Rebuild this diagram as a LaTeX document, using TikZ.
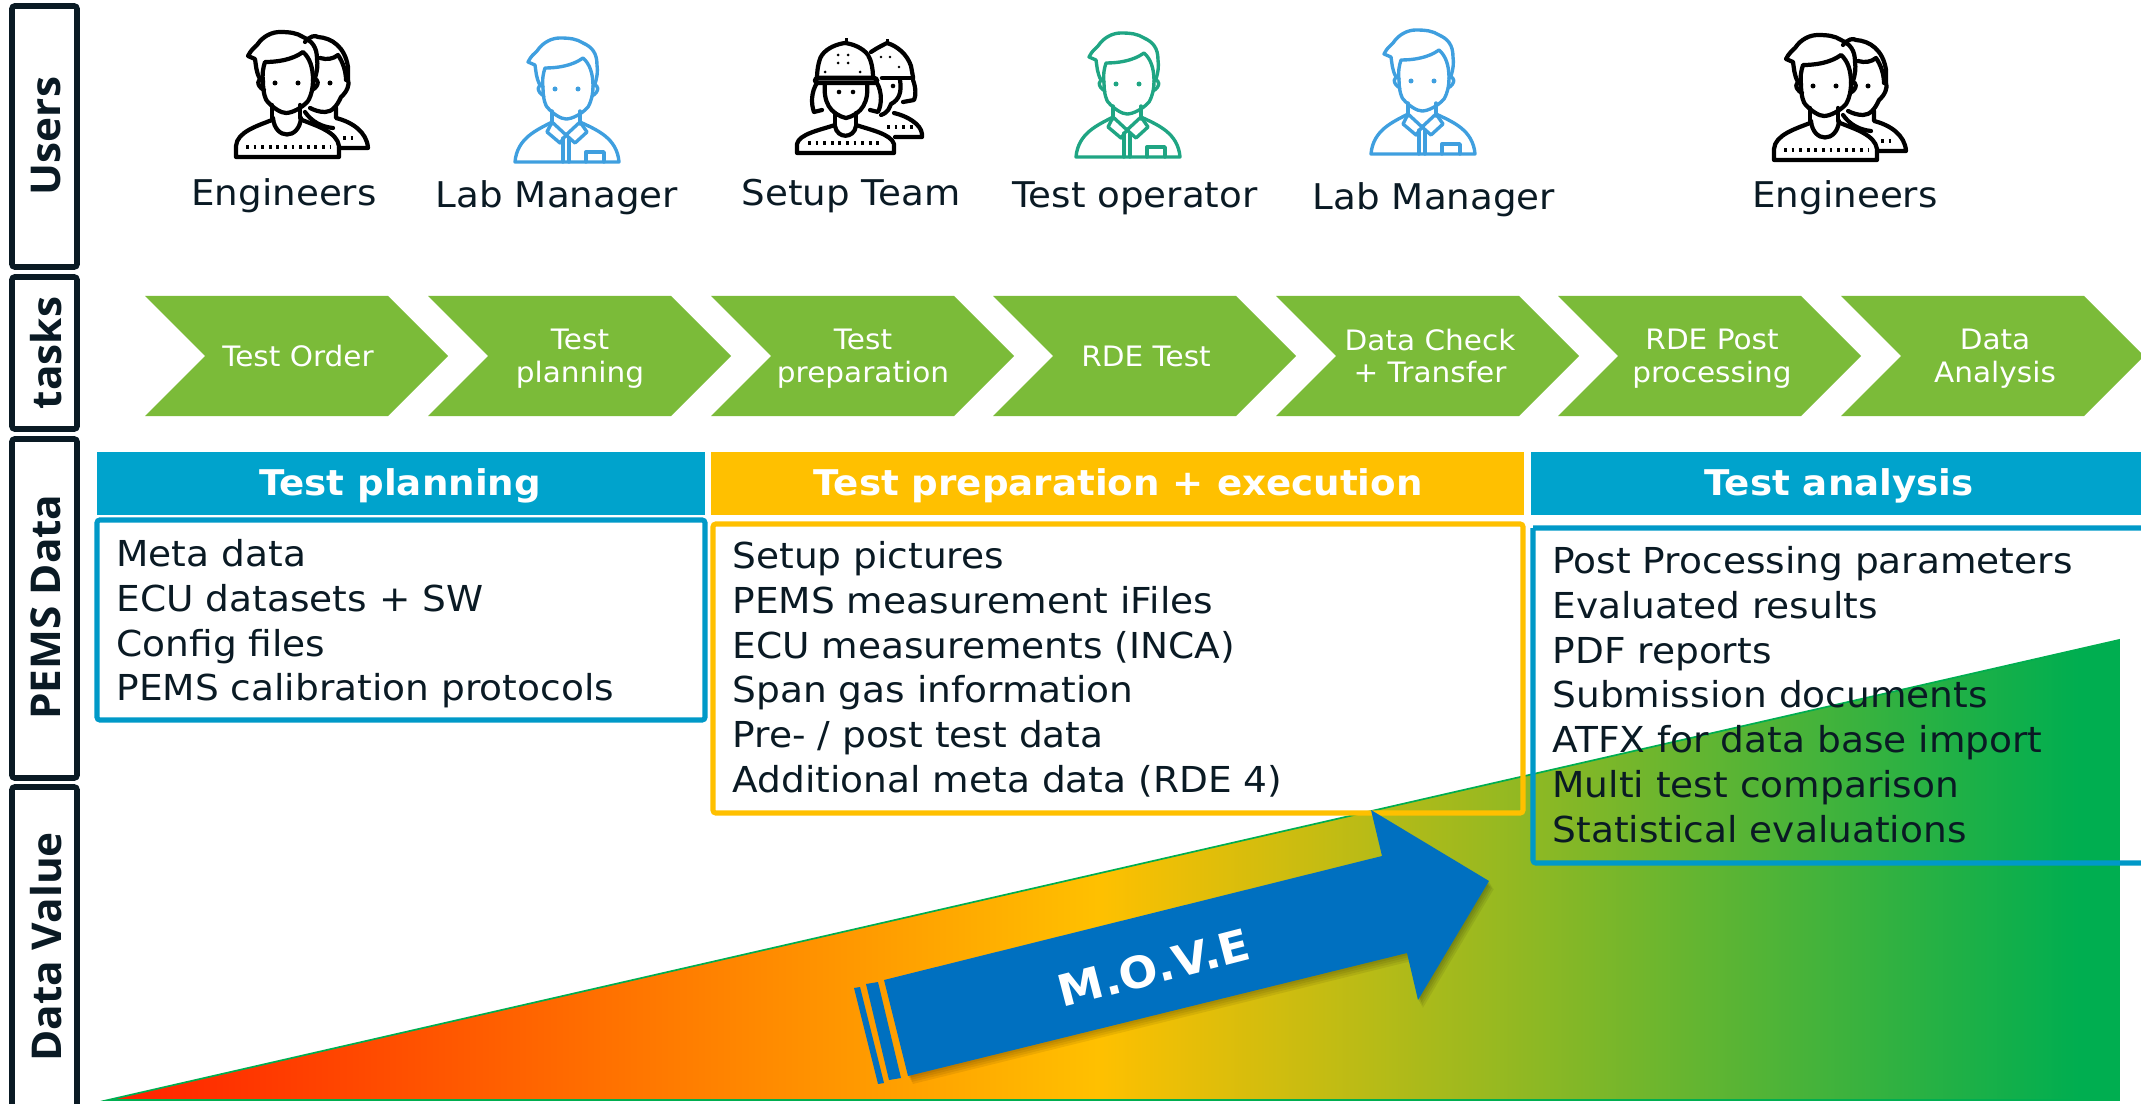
\documentclass[tikz,border=0pt]{standalone}
\usepackage{fontspec}
\setmainfont[FakeStretch=1.05]{DejaVu Sans}
\newfontfamily\sidefont[FakeStretch=1.03]{Open Sans}
\definecolor{inkdark}{HTML}{0A1A24}
\definecolor{taskgreen}{HTML}{7BBB39}
\definecolor{headblue}{HTML}{00A3CC}
\definecolor{boxblue}{HTML}{0099C8}
\definecolor{headyellow}{HTML}{FFC000}
\definecolor{arrowblue}{HTML}{0070C0}
\definecolor{iconblue}{HTML}{3F9FDF}
\definecolor{iconteal}{HTML}{1FA583}
\definecolor{valred}{HTML}{FF2000}
\definecolor{valgreen}{HTML}{00AE50}
\pgfdeclarehorizontalshading{valueshade}{100bp}{color(0bp)=(valred); color(25bp)=(valred); color(49.6bp)=(headyellow); color(74bp)=(valgreen); color(100bp)=(valgreen)}
\begin{document}
\begin{tikzpicture}[x=.0125cm, y=-.0125cm]
	\tikzset{sidebox/.style={draw=inkdark, line width=2pt, rounded corners=1pt}}
	\tikzset{sidetext/.style={rotate=90, text=inkdark, font=\sidefont\bfseries\fontsize{14.6}{16}\selectfont}}
	\tikzset{usertext/.style={text=inkdark, font=\fontsize{12.6}{15}\selectfont}}
	\tikzset{tasktext/.style={text=white, align=center, font=\fontsize{10}{11.7}\selectfont}}
	\tikzset{headtext/.style={text=white, font=\bfseries\fontsize{12.6}{15}\selectfont}}
	\tikzset{listtext/.style={anchor=north west, inner sep=0pt, align=left, text=inkdark, font=\fontsize{12.7}{15.9}\selectfont}}
	\tikzset{listbox/.style={line width=1.8pt, rounded corners=1pt}}
	\tikzset{icon/.style={line width=1.2pt, line join=round, line cap=round}}
	\tikzset{blackicon/.style={black, line width=1.5pt, line join=round, line cap=round}}
	\tikzset{task/.pic={\fill[taskgreen] (0,0) -- (243,0) -- (303,60) -- (243,120) -- (0,120) -- (60,60) -- cycle;}}
	\tikzset{head/.pic={
		\draw (-27,47) .. controls (-31,40) and (-31,33) .. (-32,27) -- (-39,24) .. controls (-36,18) and (-33,16) .. (-30,13) .. controls (-24,4) and (-15,0) .. (-7,0) .. controls (3,0) and (10,1) .. (16,5) .. controls (25,9) and (30,15) .. (30,27) .. controls (31,33) and (30,40) .. (28,46);
		\draw (-24,50) .. controls (-25,42) and (-24,36) .. (-22,30) .. controls (-10,30) and (5,28) .. (16,20) .. controls (23,26) and (26,36) .. (26,48);
		\draw (-24,50) .. controls (-24,62) and (-21,68) .. (-20,69) .. controls (-14,76) and (-6,81) .. (-1,81) .. controls (5,81) and (15,76) .. (21,69) .. controls (25,62) and (26,55) .. (26,48);
		\draw (-24,48) .. controls (-30,45) and (-31,54) .. (-23,58);
		\draw (26,48) .. controls (32,45) and (33,54) .. (25,58);
		\fill (-12,51) circle (2.5);
		\fill (11,51) circle (2.5);
		\draw (-15,73) -- (-15,86);
		\draw (13,73) -- (13,86);
	}}
	\tikzset{manager/.pic={
		\pic {head};
		\draw (-15,84) .. controls (-30,92) and (-50,100) .. (-52,124) -- (52,124) .. controls (50,100) and (30,92) .. (13,84);
		\draw (-15,84) -- (-20,94) -- (-7,105) -- (-1,97) -- (8,105) -- (20,94) -- (13,84);
		\draw (-15,84) -- (-1,97) -- (13,84);
		\draw (-4,100) -- (-4,124);
		\draw (2,100) -- (2,124);
		\draw (19,124) -- (19,114) -- (37,114) -- (37,124);
	}}
	\tikzset{engineers/.pic={
		\pic {head};
		\draw (-15,88) .. controls (-30,94) and (-50,100) .. (-51,114) -- (-51,125) -- (52,125) -- (52,114) .. controls (50,100) and (30,94) .. (15,88);
		\draw (-14,86) .. controls (-12,108) and (12,108) .. (14,86);
		\draw[dash pattern=on 1pt off 1.7pt, line cap=butt, line width=1.1pt] (-41,115) -- (43,115);
		%back one
		\draw (18,10) .. controls (23,4) and (28,3) .. (31,5) .. controls (45,6) and (58,15) .. (61,35) -- (61,48) .. controls (63,52) and (60,60) .. (54,65) .. controls (50,74) and (45,80) .. (38,80) .. controls (32,80) and (27,78) .. (23,76);
		\draw (33,26) .. controls (40,28) and (46,27) .. (51,23) .. controls (56,30) and (59,40) .. (59,48);
		\fill (43,51) circle (2.5);
		\draw (49,76) -- (49,86) .. controls (65,90) and (80,100) .. (81,116) -- (52,116);
		\draw (18,80) .. controls (25,90) and (35,95) .. (46,96);
		\draw[dash pattern=on 1pt off 1.7pt, line cap=butt, line width=1.1pt] (56,106) -- (70,106);
	}}
	\tikzset{setupteam/.pic={
		%front one
		\draw (-28,36) .. controls (-28,25) and (-25,15) .. (-23,13) .. controls (-18,6) and (-8,2) .. (0,1) .. controls (8,2) and (18,6) .. (23,13) .. controls (26,18) and (28,26) .. (28,36);
		\fill (0,1) rectangle (3,-4);
		\draw[rounded corners=1pt, line width=1.6pt] (-30,36) rectangle (32,41);
		\draw (-28,41) .. controls (-34,50) and (-34,62) .. (-31,70) -- (-23,68);
		\draw (32,41) .. controls (37,50) and (37,62) .. (33,70) -- (25,68);
		\draw (-20,41) .. controls (-22,60) and (-15,72) .. (1,76) .. controls (17,72) and (24,60) .. (22,41);
		\fill (-6,50) circle (2.3);
		\fill (8,50) circle (2.3);
		\draw (-10,71) -- (-10,83);
		\draw (11,71) -- (11,83);
		\draw (-10,83) .. controls (-25,88) and (-46,92) .. (-48,102) -- (-48,111) -- (49,111) -- (49,102) .. controls (46,92) and (26,88) .. (11,83);
		\draw (-10,84) .. controls (-8,97) and (9,97) .. (11,84);
		\draw[dash pattern=on 1pt off 1.7pt, line cap=butt, line width=1.1pt] (-37,101) -- (35,101);
		\foreach \dx/\dy in {-7/13, 3/13, -7/21, 3/21, -20/30, 15/30} {\fill (\dx,\dy) circle (1.5);}
		%back one
		\draw (26,10) .. controls (32,6) and (38,3) .. (42,1) .. controls (52,4) and (62,12) .. (66,24) -- (68,35);
		\fill (41,1) rectangle (44,-3);
		\draw[line width=1.6pt] (37,36) -- (68,36);
		\draw (68,38) .. controls (71,46) and (71,54) .. (69,58) -- (58,60);
		\draw (55,38) .. controls (57,50) and (54,58) .. (46,62) .. controls (44,66) and (44,70) .. (36,73);
		\fill (48,44) circle (2.3);
		\draw (49,71) .. controls (62,74) and (76,82) .. (77,92) -- (77,95) -- (50,95);
		\draw[dash pattern=on 1pt off 1.7pt, line cap=butt, line width=1.1pt] (42,85) -- (68,85);
		\foreach \dx/\dy in {36/15, 45/15, 54/25} {\fill (\dx,\dy) circle (1.4);}
	}}
	\useasboundingbox (0,0) rectangle (2141,1104);
	\clip (0,0) rectangle (2141,1104);
%Value triangle
	\shadedraw[shading=valueshade, draw=valgreen, line width=.6pt] (108,1100) -- (2119,640) -- (2119,1100) -- cycle;
%Side labels
	\draw[sidebox] (12,6) rectangle (77,267);
	\draw[sidebox] (12,277) rectangle (77,429);
	\draw[sidebox] (12,439) rectangle (77,778);
	\draw[sidebox] (12,787) rectangle (77,1115);
	\node[sidetext] (susers) at (46,136) {Users};
	\node[sidetext] (stasks) at (46,353) {tasks};
	\node[sidetext] (spems) at (46,607) {PEMS Data};
	\node[sidetext] (svalue) at (46,947) {Data Value};
%Users
	\pic[blackicon] at (287,32) {engineers};
	\pic[iconblue, icon] at (567,38) {manager};
	\pic[blackicon] at (845,42) {setupteam};
	\pic[iconteal, icon] at (1128,33) {manager};
	\pic[iconblue, icon] at (1423,30) {manager};
	\pic[blackicon] at (1825,35) {engineers};
	\node[usertext] (u1) at (284,196) {Engineers};
	\node[usertext] (u2) at (557,198) {Lab Manager};
	\node[usertext] (u3) at (851,196) {Setup Team};
	\node[usertext] (u4) at (1135,198) {Test operator};
	\node[usertext] (u5) at (1434,200) {Lab Manager};
	\node[usertext] (u6) at (1845,198) {Engineers};
%Tasks
	\pic at (145,296) {task};
	\pic at (428,296) {task};
	\pic at (711,296) {task};
	\pic at (993,296) {task};
	\pic at (1276,296) {task};
	\pic at (1558,296) {task};
	\pic at (1841,296) {task};
	\node[tasktext] (t1) at (298,356) {Test Order};
	\node[tasktext] (t2) at (580,359) {Test\\planning};
	\node[tasktext] (t3) at (863,359) {Test\\preparation};
	\node[tasktext] (t4) at (1146,356) {RDE Test};
	\node[tasktext] (t5) at (1430,356) {Data Check\\+ Transfer};
	\node[tasktext] (t6) at (1712,359) {RDE Post\\processing};
	\node[tasktext] (t7) at (1995,359) {Data\\Analysis};
%Headers
	\fill[headblue] (97,452) rectangle (705,515);
	\fill[headyellow] (711,452) rectangle (1524,515);
	\fill[headblue] (1531,452) rectangle (2141,515);
	\node[headtext] (h1) at (400,486) {Test planning};
	\node[headtext] (h2) at (1118,486) {Test preparation + execution};
	\node[headtext] (h3) at (1839,486) {Test analysis};
%Lists
	\draw[listbox, draw=boxblue] (97,520) rectangle (705,720);
	\draw[listbox, draw=headyellow] (713,524) rectangle (1523,813);
	\draw[listbox, draw=boxblue] (1533,528) -- (2150,528) (1533,528) -- (1533,863) -- (2150,863);
	\node[listtext] (l1) at (116,539) {Meta data\\ECU datasets + SW\\Config files\\PEMS calibration protocols};
	\node[listtext] (l2) at (732,541) {Setup pictures\\PEMS measurement iFiles\\ECU measurements (INCA)\\Span gas information\\Pre- / post test data\\Additional meta data (RDE 4)};
	\node[listtext] (l3) at (1552,546) {Post Processing parameters\\Evaluated results\\PDF reports\\Submission documents\\ATFX for data base import\\Multi test comparison\\Statistical evaluations};
%Arrow
	\foreach \s in {2,4,6,8} {
		\fill[black, opacity=.07, shift={(\s*.6,\s)}] (884,980) -- (1382,856) -- (1371,810) -- (1489,881) -- (1418,1000) -- (1407,953) -- (908,1076) -- cycle;
	}
	\fill[arrowblue] (884,980) -- (1382,856) -- (1371,810) -- (1489,881) -- (1418,1000) -- (1407,953) -- (908,1076) -- cycle;
	\fill[arrowblue] (866,984) -- (878,982) -- (901,1078) -- (889,1080) -- cycle;
	\fill[arrowblue] (854,988) -- (860,987) -- (884,1083) -- (878,1084) -- cycle;
	\node[text=white, rotate=14.5, font=\bfseries\fontsize{15.5}{18}\selectfont] (move) at (1154,968) {M.O.V.E};
\end{tikzpicture}
\end{document}
